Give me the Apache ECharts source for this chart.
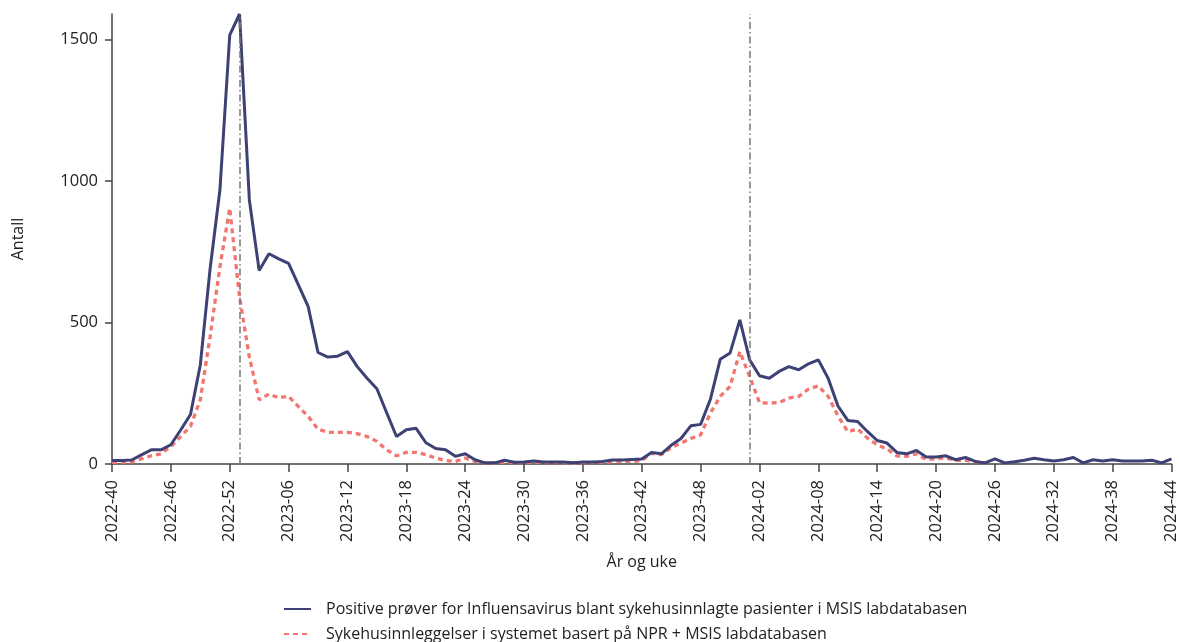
<!DOCTYPE html>
<html>
<head>
<meta charset="utf-8">
<script src="https://cdn.jsdelivr.net/npm/echarts@6/dist/echarts.min.js"></script>
<style>
  html, body { margin: 0; padding: 0; background: #fff; }
  #chart { width: 1180px; height: 642px; }
</style>
</head>
<body>
<div id="chart"></div>
<script>
// uker: 2022-40 .. 2024-44 (52 uker per år)
var weeks = [];
var years = [[2022, 40, 52], [2023, 1, 52], [2024, 1, 44]];
years.forEach(function (y) {
  for (var w = y[1]; w <= y[2]; w++) {
    weeks.push(y[0] + '-' + (w < 10 ? '0' + w : w));
  }
});

// Positive prøver for Influensavirus (MSIS labdatabasen)
var positive = [
  12, 12, 14, 32, 50, 50, 68, 120, 175, 350,
  690, 968, 1515, 1590, 933, 684, 743, 725, 709, 633,
  556, 394, 378, 381, 397, 344, 303, 266, 181, 97,
  121, 126, 75, 55, 50, 27, 36, 15, 4, 4,
  13, 6, 7, 11, 7, 7, 7, 4, 7, 7,
  9, 14, 14, 16, 18, 41, 36, 66, 90, 135,
  140, 229, 370, 392, 509, 368, 312, 303, 327, 344,
  333, 354, 368, 303, 205, 154, 150, 115, 83, 74,
  41, 36, 48, 25, 25, 29, 15, 23, 9, 4,
  18, 4, 8, 13, 20, 15, 11, 15, 23, 4,
  15, 11, 15, 11, 11, 11, 13, 4, 18
];

// Sykehusinnleggelser (NPR + MSIS labdatabasen)
var innleggelser = [
  6, 6, 8, 18, 29, 36, 62, 97, 133, 227,
  450, 697, 904, 590, 378, 227, 247, 234, 239, 203,
  168, 123, 112, 112, 112, 107, 97, 80, 50, 29,
  41, 41, 33, 21, 12, 9, 21, 9, 4, 4,
  6, 5, 5, 6, 5, 5, 5, 3, 5, 5,
  6, 8, 9, 9, 12, 38, 33, 58, 74, 90,
  103, 180, 239, 274, 397, 309, 217, 215, 217, 233,
  239, 265, 276, 239, 170, 114, 124, 92, 68, 53,
  29, 27, 36, 16, 19, 21, 13, 13, 8, 4
];

var yTicks = [0, 500, 1000, 1500];
var seasonStart = ['2023-01', '2024-01'];

var navn1 = 'Positive prøver for Influensavirus blant sykehusinnlagte pasienter i MSIS labdatabasen';
var navn2 = 'Sykehusinnleggelser i systemet basert på NPR + MSIS labdatabasen';

var font = '"Open Sans", "Noto Sans", sans-serif';
var chart = echarts.init(document.getElementById('chart'));

function legend(navn, top) {
  return {
    left: 278,
    top: top,
    itemWidth: 27,
    itemHeight: 14,
    itemGap: 8,
    itemStyle: { opacity: 0 },
    textStyle: { fontSize: 16, color: '#222', fontFamily: font, padding: [0, 0, 0, 10] },
    data: [navn]
  };
}

var option = {
  animation: false,
  textStyle: { fontFamily: font },
  grid: { left: 112, right: 8, top: 14, bottom: 178 },
  legend: [legend(navn1, 596), legend(navn2, 621)],
  xAxis: {
    type: 'category',
    data: weeks,
    boundaryGap: false,
    name: 'År og uke',
    nameLocation: 'middle',
    nameGap: 90,
    nameTextStyle: { fontSize: 16, color: '#222' },
    axisLine: { lineStyle: { color: '#444', width: 1.5 } },
    axisTick: { interval: 5, length: 8, lineStyle: { color: '#444', width: 1.5 } },
    axisLabel: { interval: 5, rotate: 90, fontSize: 16.5, color: '#222', margin: 16 }
  },
  yAxis: {
    type: 'value',
    min: 0,
    max: 1590,
    interval: 500,
    name: 'Antall',
    nameLocation: 'middle',
    nameGap: 86,
    nameTextStyle: { fontSize: 16, color: '#222' },
    splitLine: { show: false },
    axisLine: { show: true, lineStyle: { color: '#444', width: 1.5 } },
    axisTick: { show: true, length: 7, customValues: yTicks, lineStyle: { color: '#444', width: 1.5 } },
    axisLabel: {
      fontSize: 16.5, color: '#222', margin: 14, customValues: yTicks,
      formatter: function (v) { return String(v); }
    }
  },
  series: [
    {
      name: navn1,
      type: 'line',
      data: positive,
      symbol: 'none',
      z: 3,
      lineStyle: { color: '#3d4173', width: 3 },
      itemStyle: { color: '#3d4173' },
      markLine: {
        silent: true,
        symbol: 'none',
        label: { show: false },
        lineStyle: { color: '#777', width: 1.5, type: [7, 3, 1.5, 3] },
        data: seasonStart.map(function (w) { return { xAxis: w }; })
      }
    },
    {
      name: navn2,
      type: 'line',
      data: innleggelser,
      symbol: 'none',
      z: 2,
      lineStyle: { color: '#f2766f', width: 3.3, type: [5, 4] },
      itemStyle: { color: '#f2766f' }
    }
  ]
};

chart.setOption(option);
</script>
</body>
</html>
